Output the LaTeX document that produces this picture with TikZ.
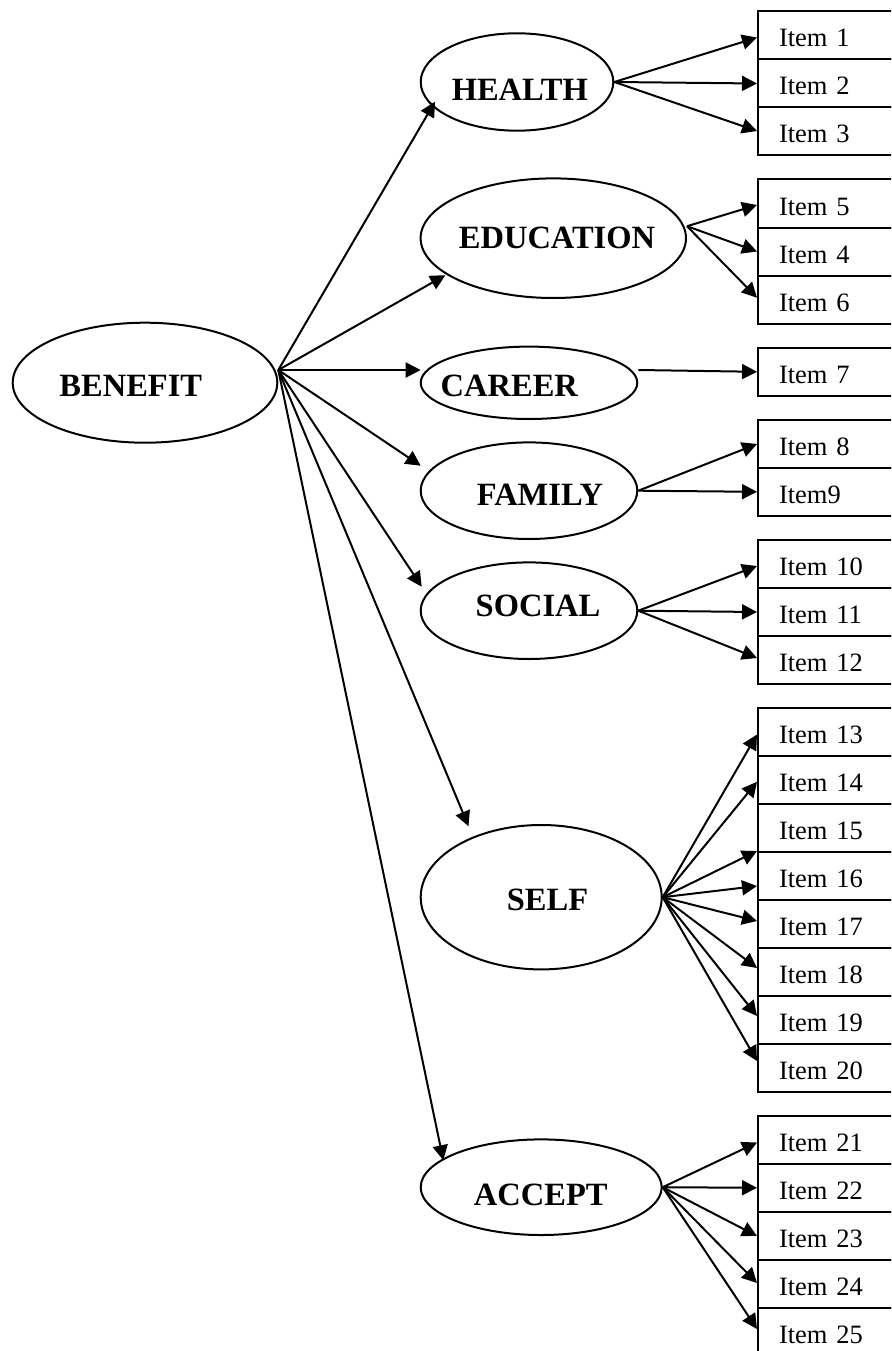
\documentclass[tikz,border=0pt]{standalone}
\usepackage{fontspec}
\setmainfont{Liberation Serif}
\usetikzlibrary{shapes.geometric,arrows.meta,calc}
\begin{document}
\begin{tikzpicture}[x=1pt,y=-1pt,
  arr/.style={draw, line width=2pt, -{Triangle[length=15pt,width=15pt]}},
  latent/.style={draw, ellipse, inner sep=0pt, line width=2pt},
  lbl/.style={anchor=base, inner sep=0pt, font=\fontsize{32.5}{36}\selectfont\bfseries},
  itembox/.style={draw, rectangle, anchor=north west, line width=2pt,
    minimum height=48pt, text width=110pt, align=left, inner xsep=21pt, inner ysep=0pt,
    text height=23pt, text depth=0pt, font=\fontsize{26.5}{30}\selectfont}]
\useasboundingbox (0,0) rectangle (891,1351);
\clip (0,0) rectangle (891,1351);
\fill[white] (0,0) rectangle (891,1351);

% latent ellipses
\node[latent, minimum width=264.6pt, minimum height=120pt] (benefit) at (145,382.7) {};
\node[latent, minimum width=192.6pt, minimum height=97.4pt] (health) at (517,82) {};
\node[latent, minimum width=265.4pt, minimum height=119.6pt] (education) at (553.3,238.2) {};
\node[latent, minimum width=216.6pt, minimum height=72.4pt] (career) at (529,382.8) {};
\node[latent, minimum width=216.6pt, minimum height=96.6pt] (family) at (529,490.7) {};
\node[latent, minimum width=216.6pt, minimum height=96.6pt] (social) at (529,610.7) {};
\node[latent, minimum width=241pt, minimum height=144.4pt] (self) at (541.2,897.2) {};
\node[latent, minimum width=241pt, minimum height=95.6pt] (accept) at (541.2,1187.2) {};

% labels
\node[lbl] (benefitl) at (130.8,396) {BENEFIT};
\node[lbl] (healthl) at (519.8,100.7) {HEALTH};
\node[lbl] (educationl) at (557,248.3) {EDUCATION};
\node[lbl] (careerl) at (509.3,396) {CAREER};
\node[lbl] (familyl) at (540,505.7) {FAMILY};
\node[lbl] (sociall) at (538,616.7) {SOCIAL};
\node[lbl] (selfl) at (547.5,910.7) {SELF};
\node[lbl] (acceptl) at (540.8,1205) {ACCEPT};

% item boxes
\foreach \n/\t/\txt in {1/10.5/Item 1, 2/58.5/Item 2, 3/106.5/Item 3,
  5/178.5/Item 5, 4/226.5/Item 4, 6/274.7/Item 6,
  7/346.8/Item 7,
  8/419/Item 8, 9/466.8/Item9,
  10/539/Item 10, 11/587/Item 11, 12/635/Item 12,
  13/706.5/Item 13, 14/754.8/Item 14, 15/803/Item 15, 16/851/Item 16,
  17/899/Item 17, 18/947/Item 18, 19/995/Item 19, 20/1043/Item 20,
  21/1114.5/Item 21, 22/1162.8/Item 22, 23/1211/Item 23, 24/1259/Item 24, 25/1307/Item 25}
  {\node[itembox] (i\n) at (757,\t) {\txt};}

% benefit paths
\coordinate (bsrc) at ($(benefit.east)+(0,-12.7)$);
\draw[arr] (bsrc) -- ($(health.center)+(-82,19.7)$);
\draw[arr] (bsrc) -- ($(education.center)+(-108,37)$);
\draw[arr] (bsrc) -- ($(career.center)+(-108.3,-12.8)$);
\draw[arr] (bsrc) -- ($(family.center)+(-108.3,-25)$);
\draw[arr] (bsrc) -- ($(social.center)+(-107.3,-24)$);
\draw[arr] (bsrc) -- ($(self.center)+(-72.7,-71)$);
\draw[arr] (bsrc) -- ($(accept.center)+(-97.9,-27)$);

% health
\draw[arr] (health.east) -- ($(i1.west)+(0,2)$);
\draw[arr] (health.east) -- (i2.west);
\draw[arr] (health.east) -- ($(i3.west)+(0,-0.5)$);
% education
\coordinate (esrc) at ($(education.east)+(0,-12)$);
\draw[arr] (esrc) -- ($(i5.west)+(0,1.5)$);
\draw[arr] (esrc) -- (i4.west);
\draw[arr] (esrc) -- ($(i6.west)+(0,-2)$);
% career
\draw[arr] ($(career.east)+(0,-12.8)$) -- (i7.west);
% family
\draw[arr] (family.east) -- (i8.west);
\draw[arr] (family.east) -- (i9.west);
% social
\draw[arr] (social.east) -- ($(i10.west)+(0,2)$);
\draw[arr] (social.east) -- (i11.west);
\draw[arr] (social.east) -- ($(i12.west)+(0,-2)$);
% self
\draw[arr] (self.east) -- ($(i13.west)+(0,3)$);
\draw[arr] (self.east) -- ($(i14.west)+(0,2)$);
\draw[arr] (self.east) -- (i16.north west);
\draw[arr] (self.east) -- ($(i16.west)+(0,10)$);
\draw[arr] (self.east) -- ($(i17.west)+(0,-3)$);
\draw[arr] (self.east) -- ($(i18.west)+(0,-4)$);
\draw[arr] (self.east) -- ($(i19.west)+(0,-4)$);
\draw[arr] (self.east) -- ($(i20.west)+(0,-7)$);
% accept
\draw[arr] (accept.east) -- ($(i21.west)+(0,3)$);
\draw[arr] (accept.east) -- (i22.west);
\draw[arr] (accept.east) -- (i23.west);
\draw[arr] (accept.east) -- ($(i24.west)+(0,-1)$);
\draw[arr] (accept.east) -- ($(i25.west)+(0,-3)$);
\end{tikzpicture}
\end{document}
